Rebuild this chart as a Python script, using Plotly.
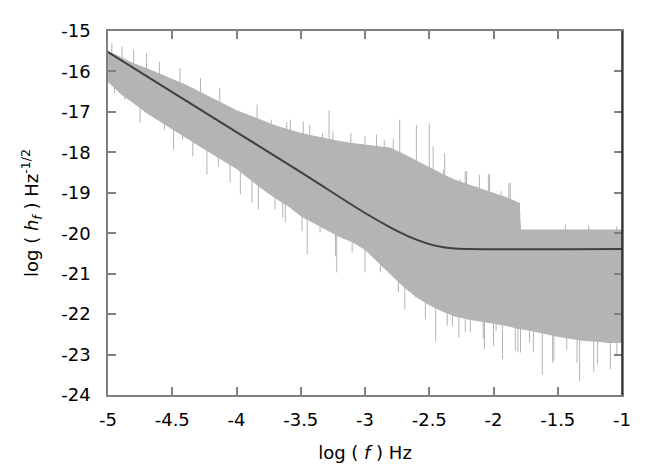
import numpy as np
import plotly.graph_objects as go

# Noisy spectrum: upper and lower edges of the gray body
env_x = [-5.0, -4.9, -4.8, -4.7, -4.6, -4.5, -4.4, -4.3, -4.2, -4.1, -4.0,
         -3.9, -3.8, -3.7, -3.6, -3.5, -3.4, -3.3, -3.2, -3.1, -3.0,
         -2.9, -2.8, -2.7, -2.6, -2.5, -2.4, -2.3, -2.2, -2.1, -2.0,
         -1.9, -1.8, -1.79, -1.7, -1.6, -1.5, -1.4, -1.3, -1.2, -1.1, -1.0]
env_upper = [-15.5, -15.66, -15.81, -15.93, -16.06, -16.19, -16.33, -16.49, -16.66, -16.81, -16.97,
             -17.1, -17.22, -17.34, -17.44, -17.53, -17.6, -17.67, -17.73, -17.78, -17.82,
             -17.85, -17.9, -18.05, -18.22, -18.38, -18.54, -18.69, -18.8, -18.91, -19.02,
             -19.12, -19.26, -19.92, -19.92, -19.92, -19.91, -19.91, -19.92, -19.91, -19.91, -19.92]
env_lower = [-16.25, -16.55, -16.78, -17.02, -17.22, -17.43, -17.62, -17.82, -18.02, -18.21, -18.4,
             -18.65, -18.9, -19.12, -19.32, -19.57, -19.73, -19.91, -20.08, -20.21, -20.4,
             -20.7, -21.02, -21.32, -21.57, -21.77, -21.92, -22.05, -22.12, -22.17, -22.22,
             -22.28, -22.36, -22.36, -22.41, -22.48, -22.55, -22.6, -22.65, -22.67, -22.7, -22.7]

# Long spikes above the body
spike_up_x = [-4.97, -4.89, -4.8, -4.7, -4.6, -4.44, -4.28, -4.13, -3.84, -3.73, -3.61, -3.58,
              -3.48, -3.43, -3.33, -3.28, -3.25, -3.11, -3.0, -2.91, -2.85, -2.78, -2.73, -2.6,
              -2.5, -2.47, -2.39, -2.38, -2.26, -2.22, -2.21, -2.13, -2.11, -2.04, -2.03, -1.94,
              -1.88, -1.87, -1.8, -1.44, -1.26, -1.04]
spike_up_y = [-15.3, -15.39, -15.47, -15.55, -15.76, -15.92, -16.17, -16.41, -16.82, -17.19, -17.26, -17.19,
              -17.24, -17.32, -17.52, -16.96, -17.48, -17.52, -17.6, -17.56, -17.69, -17.67, -17.19, -17.32,
              -17.28, -17.85, -18.43, -18.02, -18.67, -18.47, -18.46, -18.84, -18.55, -18.53, -18.55, -18.96,
              -18.76, -18.75, -19.25, -19.79, -19.8, -19.83]

# Long spikes below the body
spike_dn_x = [-4.95, -4.87, -4.75, -4.65, -4.56, -4.49, -4.42, -4.34, -4.23, -4.14, -4.05, -3.97,
              -3.93, -3.88, -3.83, -3.82, -3.74, -3.7, -3.64, -3.62, -3.55, -3.49, -3.45, -3.38,
              -3.35, -3.23, -3.22, -3.1, -3.0, -2.88, -2.74, -2.69, -2.61, -2.53, -2.45, -2.36,
              -2.32, -2.27, -2.22, -2.18, -2.08, -2.07, -2.0, -1.98, -1.93, -1.83, -1.81, -1.79,
              -1.72, -1.69, -1.62, -1.54, -1.53, -1.43, -1.35, -1.33, -1.22, -1.19, -1.09, -1.04]
spike_dn_y = [-16.54, -16.7, -17.27, -17.0, -17.44, -17.93, -17.69, -18.1, -18.55, -18.35, -18.75, -19.04,
              -18.22, -19.24, -19.41, -18.67, -18.76, -19.41, -19.61, -19.73, -19.0, -19.95, -20.52, -19.41,
              -19.98, -20.57, -20.97, -20.47, -20.97, -20.97, -21.46, -21.88, -21.59, -22.13, -22.67, -22.29,
              -22.3, -22.58, -22.45, -22.45, -22.62, -22.86, -22.79, -22.41, -23.11, -22.9, -22.95, -22.95,
              -22.7, -22.95, -23.5, -23.2, -23.15, -22.87, -23.2, -23.65, -23.44, -23.25, -23.36, -23.04]

# Dark model curve
model_x = [-5.0, -4.5, -4.0, -3.5, -3.0, -2.8, -2.7, -2.6, -2.5, -2.4, -2.3, -2.2, -1.0]
model_y = [-15.52, -16.51, -17.5, -18.49, -19.5, -19.86, -20.02, -20.16, -20.27, -20.34, -20.38, -20.39, -20.39]

x_ticks = [-5, -4.5, -4, -3.5, -3, -2.5, -2, -1.5, -1]
y_ticks = [-24, -23, -22, -21, -20, -19, -18, -17, -16, -15]

GRAY = "#b4b4b4"
FONT = "DejaVu Sans, Arial, sans-serif"


def spike_segments(xs, tips):
    # each spike runs from its tip back to the model curve (hidden under the body)
    bases = np.interp(xs, model_x, model_y)
    sx, sy = [], []
    for x, t, b in zip(xs, tips, bases):
        sx += [x, x, None]
        sy += [t, b, None]
    return sx, sy


fig = go.Figure()

for xs, tips in [(spike_up_x, spike_up_y), (spike_dn_x, spike_dn_y)]:
    sx, sy = spike_segments(xs, tips)
    fig.add_trace(go.Scatter(x=sx, y=sy, mode="lines",
                             line=dict(color=GRAY, width=1), hoverinfo="skip"))

fig.add_trace(go.Scatter(x=env_x, y=env_upper, mode="lines",
                         line=dict(color=GRAY, width=1), hoverinfo="skip"))
fig.add_trace(go.Scatter(x=env_x, y=env_lower, mode="lines", fill="tonexty", fillcolor=GRAY,
                         line=dict(color=GRAY, width=1), hoverinfo="skip"))

fig.add_trace(go.Scatter(x=model_x, y=model_y, mode="lines",
                         line=dict(color="#404040", width=2), line_shape="spline"))

axis_common = dict(
    showgrid=False, zeroline=False,
    showline=True, linecolor="#808080", linewidth=1.5, mirror="allticks",
    ticks="inside", ticklen=8, tickwidth=1.5, tickcolor="#808080",
    tickfont=dict(family=FONT, size=18, color="black"),
)

fig.update_xaxes(range=[-5, -1], tickvals=x_ticks, ticktext=[f"{v:g}" for v in x_ticks],
                 ticklabelstandoff=8,
                 title=dict(text="log ( <i>f</i> ) Hz", font=dict(family=FONT, size=18, color="black"),
                            standoff=17),
                 **axis_common)
fig.update_yaxes(range=[-24, -15], tickvals=y_ticks, ticktext=[f"{v:g}" for v in y_ticks],
                 ticklabelstandoff=12,
                 title=dict(text="log ( <i>h<sub>f</sub></i> ) Hz<sup>-1/2</sup>",
                            font=dict(family=FONT, size=18, color="black"), standoff=18),
                 **axis_common)

# darker right-hand border
fig.add_shape(type="line", xref="paper", yref="paper", x0=1, x1=1, y0=0, y1=1,
              line=dict(color="#202020", width=1.5))

# the page adds a body margin, so the figure is drawn a little smaller than the window
fig.update_layout(
    width=656, height=464,
    margin=dict(l=100, r=42, t=23, b=70),
    plot_bgcolor="white", paper_bgcolor="white",
    showlegend=False,
)

fig.write_html("out.html")
